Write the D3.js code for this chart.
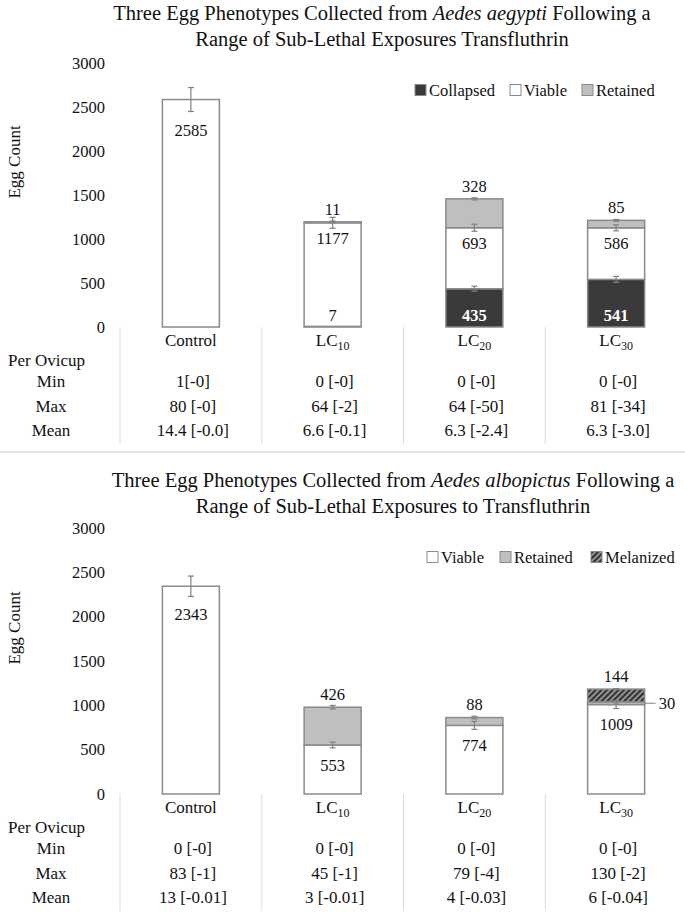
<!DOCTYPE html>
<html>
<head>
<meta charset="utf-8">
<script src="https://cdn.jsdelivr.net/npm/d3@7"></script>
<style>
  body { margin: 0; background: #fff; }
  svg { display: block; }
  svg text { font-family: "Liberation Serif", "Tinos", "Times New Roman", Times, "DejaVu Serif", serif; }
</style>
</head>
<body>
<svg id="chart" width="685" height="912"></svg>
<script>
// ---------- data ----------
const categories = ["Control", "LC10", "LC20", "LC30"];
const yTicks = [0, 500, 1000, 1500, 2000, 2500, 3000];
const rowLabels = ["Min", "Max", "Mean"];

// Aedes aegypti
const aegCollapsed = [0, 7, 435, 541];
const aegViable = [2585, 1177, 693, 586];
const aegRetained = [0, 11, 328, 85];
const aegErrCollapsed = [0, 0, 28, 34];
const aegErrViable = [136, 62, 40, 34];
const aegErrRetained = [0, 10, 12, 10];
const aegMin = ["1[-0]", "0 [-0]", "0 [-0]", "0 [-0]"];
const aegMax = ["80 [-0]", "64 [-2]", "64 [-50]", "81 [-34]"];
const aegMean = ["14.4 [-0.0]", "6.6 [-0.1]", "6.3 [-2.4]", "6.3 [-3.0]"];

// Aedes albopictus
const albViable = [2343, 553, 774, 1009];
const albRetained = [0, 426, 88, 30];
const albMelanized = [0, 0, 0, 144];
const albErrViable = [115, 32, 45, 45];
const albErrRetained = [0, 20, 15, 10];
const albErrMelanized = [0, 0, 0, 6];
const albMin = ["0 [-0]", "0 [-0]", "0 [-0]", "0 [-0]"];
const albMax = ["83 [-1]", "45 [-1]", "79 [-4]", "130 [-2]"];
const albMean = ["13 [-0.01]", "3 [-0.01]", "4 [-0.03]", "6 [-0.04]"];

// ---------- styles ----------
const COL = { Collapsed: "#3a3a3a", Viable: "#ffffff", Retained: "#bfbfbf", Melanized: "url(#hatch)" };
const STROKE = "#8a8a8a";
const ERR = "#808080";
const TXT = "#111";

const svg = d3.select("#chart");
const defs = svg.append("defs");
const pat = defs.append("pattern").attr("id", "hatch").attr("patternUnits", "userSpaceOnUse")
  .attr("width", 4).attr("height", 4).attr("patternTransform", "rotate(45)");
pat.append("rect").attr("width", 4).attr("height", 4).attr("fill", "#a8a8a8");
pat.append("rect").attr("width", 2.4).attr("height", 4).attr("fill", "#333");

// divider between charts
svg.append("rect").attr("x", 0).attr("y", 451).attr("width", 685).attr("height", 2).attr("fill", "#e4e4e4");

function catLabel(sel, c) {
  const m = c.match(/^LC(\d+)$/);
  if (m) {
    sel.append("tspan").text("LC");
    sel.append("tspan").attr("font-size", 12).attr("dy", 4).text(m[1]);
  } else sel.text(c);
}

function drawChart(cfg) {
  const g = svg.append("g");
  const x = d3.scaleBand().domain(categories).range([120, 687]).paddingInner(0).paddingOuter(0);
  const y = d3.scaleLinear().domain([0, 3000]).range([cfg.y0, cfg.y3000]);
  const bw = 57;
  const cx = c => x(c) + x.bandwidth() / 2;

  // title
  const t = g.append("text").attr("text-anchor", "middle").attr("font-size", 20.5).attr("fill", TXT);
  const l1 = t.append("tspan").attr("x", cfg.titleX).attr("y", cfg.titleY);
  l1.append("tspan").text("Three Egg Phenotypes Collected from ");
  l1.append("tspan").attr("font-style", "italic").text(cfg.species);
  l1.append("tspan").text(" Following a");
  t.append("tspan").attr("x", cfg.titleX).attr("y", cfg.titleY + 26).text(cfg.title2);

  // y axis
  const ax = g.append("g").attr("transform", "translate(105,0)")
    .call(d3.axisLeft(y).tickValues(yTicks).tickSize(0).tickPadding(0).tickFormat(d3.format("d")));
  ax.select(".domain").remove();
  ax.attr("font-family", null).attr("font-size", null);
  ax.selectAll("text").attr("font-size", 16.5).attr("fill", TXT);

  g.append("text").attr("transform", `translate(20,${cfg.ylabY}) rotate(-90)`)
    .attr("text-anchor", "middle").attr("font-size", 17).attr("fill", TXT).text("Egg Count");

  // legend
  cfg.legend.forEach(([name, lx]) => {
    g.append("rect").attr("x", lx).attr("y", cfg.legendY - 5.5).attr("width", 11).attr("height", 11)
      .attr("fill", COL[name]).attr("stroke", STROKE).attr("stroke-width", 1);
    g.append("text").attr("x", lx + 14).attr("y", cfg.legendY).attr("dy", "0.35em")
      .attr("font-size", 16.5).attr("fill", TXT).text(name);
  });

  // stacked bars
  const stack = d3.stack().keys(cfg.series.map(s => s.name))
    .value((d, k) => d[k]);
  const rows = categories.map((c, i) => {
    const r = { cat: c };
    cfg.series.forEach(s => r[s.name] = s.values[i]);
    return r;
  });
  const layers = stack(rows);
  layers.forEach((layer, li) => {
    const s = cfg.series[li];
    g.selectAll(null).data(layer.filter(d => d[1] - d[0] > 0)).join("rect")
      .attr("x", d => cx(d.data.cat) - bw / 2)
      .attr("y", d => y(d[1]))
      .attr("width", bw)
      .attr("height", d => y(d[0]) - y(d[1]))
      .attr("fill", COL[s.name])
      .attr("stroke", STROKE).attr("stroke-width", 1.5);
  });
  // error bars
  layers.forEach((layer, li) => {
    const s = cfg.series[li];
    layer.forEach((d, i) => {
      const e = s.err[i];
      if (!e || d[1] - d[0] <= 0) return;
      const xc = cx(d.data.cat);
      const yt = y(d[1] + e), yb = y(d[1] - e);
      const eg = g.append("g").attr("stroke", ERR).attr("stroke-width", 1.2);
      eg.append("line").attr("x1", xc).attr("x2", xc).attr("y1", yt).attr("y2", yb);
      eg.append("line").attr("x1", xc - 3).attr("x2", xc + 3).attr("y1", yt).attr("y2", yt);
      eg.append("line").attr("x1", xc - 3).attr("x2", xc + 3).attr("y1", yb).attr("y2", yb);
    });
  });
  // data labels
  layers.forEach((layer, li) => {
    const s = cfg.series[li];
    layer.forEach((d, i) => {
      const v = d[1] - d[0];
      if (v <= 0) return;
      const c = d.data.cat;
      const xc = cx(c);
      let ly, anchor = "middle", fill = TXT, weight = "normal", lx = xc;
      if (s.name === "Collapsed") {
        ly = y(0) - 12;
        if (v > 100) { fill = "#fff"; weight = "bold"; }
      } else if (s.name === "Viable") {
        ly = y(d[1]) + (c === "Control" ? cfg.ctrlOff : cfg.viaOff);
      } else if (s.name === "Retained" && cfg.sideRetained && c === cfg.sideRetained) {
        lx = xc + bw / 2 + 14; anchor = "start";
        ly = y((d[0] + d[1]) / 2);
        g.append("line").attr("x1", xc + bw / 2).attr("x2", xc + bw / 2 + 11)
          .attr("y1", ly).attr("y2", ly).attr("stroke", ERR).attr("stroke-width", 1);
      } else {
        ly = y(d[1]) - 13;
      }
      g.append("text").attr("x", lx).attr("y", ly).attr("dy", "0.35em")
        .attr("text-anchor", anchor).attr("font-size", 16.5).attr("font-weight", weight)
        .attr("fill", fill).text(v);
    });
  });

  // separators
  const y0 = y(0);
  categories.forEach(c => {
    g.append("line").attr("x1", x(c)).attr("x2", x(c)).attr("y1", y0).attr("y2", y0 + 117)
      .attr("stroke", "#dcdcdc").attr("stroke-width", 1);
  });

  // category labels
  categories.forEach(c => {
    const tx = g.append("text").attr("x", cx(c)).attr("y", y0 + 13).attr("dy", "0.35em")
      .attr("text-anchor", "middle").attr("font-size", 17).attr("fill", TXT);
    catLabel(tx, c);
  });

  // table
  g.append("text").attr("x", 8).attr("y", y0 + 33).attr("dy", "0.35em")
    .attr("font-size", 17).attr("fill", TXT).text("Per Ovicup");
  const rowY = [54, 79, 103];
  cfg.table.forEach((vals, ri) => {
    g.append("text").attr("x", 51).attr("y", y0 + rowY[ri]).attr("dy", "0.35em")
      .attr("text-anchor", "middle").attr("font-size", 17).attr("fill", TXT).text(rowLabels[ri]);
    vals.forEach((v, i) => {
      g.append("text").attr("x", cx(categories[i]) + 2).attr("y", y0 + rowY[ri]).attr("dy", "0.35em")
        .attr("text-anchor", "middle").attr("font-size", 17).attr("fill", TXT).text(v);
    });
  });
}

drawChart({
  y0: 327, y3000: 63, titleX: 382, titleY: 20, ylabY: 162,
  species: "Aedes aegypti", title2: "Range of Sub-Lethal Exposures Transfluthrin",
  legendY: 90, legend: [["Collapsed", 415], ["Viable", 510], ["Retained", 582]],
  series: [
    { name: "Collapsed", values: aegCollapsed, err: aegErrCollapsed },
    { name: "Viable", values: aegViable, err: aegErrViable },
    { name: "Retained", values: aegRetained, err: aegErrRetained }
  ],
  ctrlOff: 31, viaOff: 15,
  table: [aegMin, aegMax, aegMean]
});

drawChart({
  y0: 794, y3000: 528, titleX: 393, titleY: 487, ylabY: 628,
  species: "Aedes albopictus", title2: "Range of Sub-Lethal Exposures to Transfluthrin",
  legendY: 557, legend: [["Viable", 427], ["Retained", 500], ["Melanized", 591]],
  series: [
    { name: "Viable", values: albViable, err: albErrViable },
    { name: "Retained", values: albRetained, err: albErrRetained },
    { name: "Melanized", values: albMelanized, err: albErrMelanized }
  ],
  ctrlOff: 28, viaOff: 20, sideRetained: "LC30",
  table: [albMin, albMax, albMean]
});
</script>
</body>
</html>
